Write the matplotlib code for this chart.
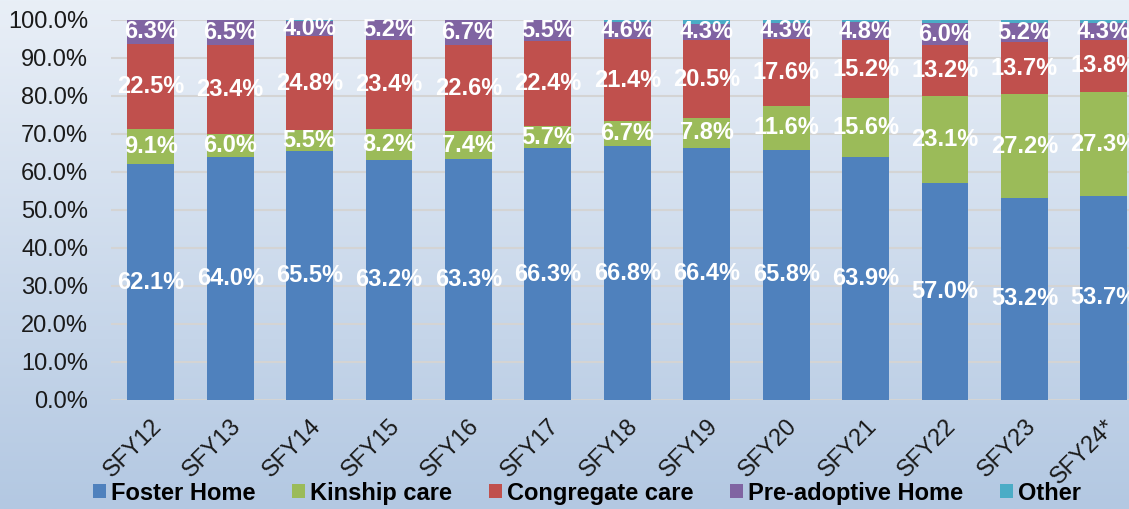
import numpy as np
import matplotlib.pyplot as plt
from matplotlib.colors import LinearSegmentedColormap

plt.rcParams['font.family'] = ['Liberation Sans', 'DejaVu Sans']

years = ['SFY12', 'SFY13', 'SFY14', 'SFY15', 'SFY16', 'SFY17', 'SFY18',
         'SFY19', 'SFY20', 'SFY21', 'SFY22', 'SFY23', 'SFY24*']
foster = [62.1, 64.0, 65.5, 63.2, 63.3, 66.3, 66.8, 66.4, 65.8, 63.9, 57.0, 53.2, 53.7]
kinship = [9.1, 6.0, 5.5, 8.2, 7.4, 5.7, 6.7, 7.8, 11.6, 15.6, 23.1, 27.2, 27.3]
congregate = [22.5, 23.4, 24.8, 23.4, 22.6, 22.4, 21.4, 20.5, 17.6, 15.2, 13.2, 13.7, 13.8]
preadopt = [6.3, 6.5, 4.0, 5.2, 6.7, 5.5, 4.6, 4.3, 4.3, 4.8, 6.0, 5.2, 4.3]
other = [0.0, 0.1, 0.2, 0.0, 0.0, 0.1, 0.5, 1.0, 0.7, 0.5, 0.7, 0.7, 0.9]

series = [('Foster Home', foster, '#4f81bd', True),
          ('Kinship care', kinship, '#9bbb59', True),
          ('Congregate care', congregate, '#c0504d', True),
          ('Pre-adoptive Home', preadopt, '#8064a2', True),
          ('Other', other, '#4bacc6', False)]

fig = plt.figure(figsize=(11.29, 5.09), dpi=100)

# fond degrade
bg = fig.add_axes([0, 0, 1, 1], zorder=-10)
cmap = LinearSegmentedColormap.from_list('bg', ['#b3c8e2', '#e9eff7'])
bg.imshow(np.linspace(0, 1, 256).reshape(-1, 1), aspect='auto', cmap=cmap,
          origin='lower', extent=[0, 1, 0, 1])
bg.axis('off')

ax = fig.add_axes([111 / 1129, 109 / 509, 1 - 111 / 1129, 380 / 509])
ax.patch.set_alpha(0)

x = np.arange(len(years))
bottom = np.zeros(len(years))
handles = []
for name, vals, col, lab in series:
    vals = np.array(vals)
    b = ax.bar(x, vals, 0.59, bottom=bottom, color=col, label=name, zorder=3)
    handles.append(b)
    if lab:
        for xi, v, bt in zip(x, vals, bottom):
            ax.text(xi, bt + v / 2, '%.1f%%' % v, ha='center', va='center',
                    color='white', fontsize=17, fontweight='bold', zorder=5)
    bottom += vals

ax.set_xlim(-0.5, 12.316)
ax.set_ylim(0, 100)
ax.set_yticks(np.arange(0, 101, 10))
ax.set_yticklabels(['%.1f%%' % t for t in np.arange(0, 101, 10)], fontsize=17,
                   color='#1a1a1a')
ax.set_xticks(x)
ax.set_xticklabels(years, rotation=45, ha='right', rotation_mode='anchor',
                   fontsize=17, color='#1a1a1a')
ax.tick_params(axis='both', length=0)
ax.tick_params(axis='y', pad=16.5)
ax.tick_params(axis='x', pad=11)
ax.grid(axis='y', color='#d4d4d4', linewidth=1.5, zorder=0)
for s in ax.spines.values():
    s.set_visible(False)

leg = fig.legend(handles=handles, loc='center', bbox_to_anchor=(0.52, 0.031), ncol=5,
                 frameon=False, handlelength=0.55, handleheight=0.55,
                 handletextpad=0.22, columnspacing=1.55, borderpad=0,
                 prop={'size': 17, 'weight': 'bold'})

fig.savefig('out.png', dpi=100)
